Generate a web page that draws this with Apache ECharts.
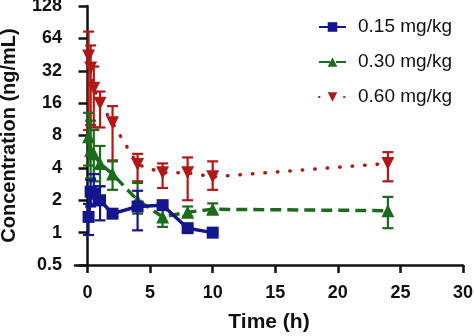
<!DOCTYPE html>
<html>
<head>
<meta charset="utf-8">
<script src="https://cdn.jsdelivr.net/npm/echarts@6/dist/echarts.min.js"></script>
<style>html,body{margin:0;padding:0;background:#fff}#c{width:474px;height:336px}</style>
</head>
<body>
<div id="c"></div>
<script>
const seriesNames = ['0.15 mg/kg', '0.30 mg/kg', '0.60 mg/kg'];
const timesLow = [0.083, 0.25, 0.5, 1, 2, 4, 6, 8, 10];
const times = [0.083, 0.25, 0.5, 1, 2, 4, 6, 8, 10, 24];
const lowMean = [1.4, 2.4, 2.3, 2.0, 1.5, 1.75, 1.8, 1.1, 1.0];
const lowUpper = [1.85, 3.1, 3.5, 2.7, 1.6, 2.45, 1.9, 1.15, 1.03];
const lowLower = [0.95, 1.75, 1.8, 1.3, 1.4, 1.05, 1.7, 1.05, 0.97];
const midMean = [7.8, 5.8, 5.4, 4.4, 3.5, 2.0, 1.4, 1.55, 1.65, 1.6];
const midUpper = [13, 11, 9, 6.4, 4.7, 2.9, 1.72, 1.75, 1.87, 2.15];
const midLower = [4.2, 3.2, 3.0, 2.7, 2.5, 1.5, 1.13, 1.42, 1.5, 1.1];
const highMean = [44, 34, 22, 16, 10.5, 4.3, 3.6, 3.6, 3.3, 4.4];
const highUpper = [74, 55, 35, 20.5, 15, 5.4, 4.4, 5.0, 4.6, 5.6];
const highLower = [9, 10, 9.5, 9.5, 4.6, 3.0, 2.6, 2.0, 2.5, 3.0];
const xTicks = [0, 5, 10, 15, 20, 25, 30];
const yTicks = [0.5, 1, 2, 4, 8, 16, 32, 64, 128];

const colors = ['#13168c', '#1c6a1c', '#b01818'];
const FONT = '"Liberation Sans", Arial, Helvetica, sans-serif';

function pairs(t, v) { return t.map((x, i) => [x, v[i]]); }
function errData(t, lo, hi) { return t.map((x, i) => [x, lo[i], hi[i]]); }
function errSeries(data, color, z) {
  return {
    type: 'custom', data: data, z: z, silent: true,
    encode: { x: 0, y: [1, 2] },
    renderItem: function (params, api) {
      const x = api.value(0);
      const lo = api.coord([x, api.value(1)]);
      const hi = api.coord([x, api.value(2)]);
      const w = 5.5;
      const st = { stroke: color, lineWidth: 2.2 };
      return {
        type: 'group', children: [
          { type: 'line', shape: { x1: lo[0], y1: lo[1], x2: hi[0], y2: hi[1] }, style: st },
          { type: 'line', shape: { x1: lo[0] - w, y1: lo[1], x2: lo[0] + w, y2: lo[1] }, style: st },
          { type: 'line', shape: { x1: hi[0] - w, y1: hi[1], x2: hi[0] + w, y2: hi[1] }, style: st }
        ]
      };
    }
  };
}

const chart = echarts.init(document.getElementById('c'), null, { renderer: 'canvas' });
chart.setOption({
  animation: false,
  textStyle: { fontFamily: FONT },
  grid: { left: 75, right: 11, top: 6, bottom: 71, containLabel: false, outerBoundsMode: 'none' },
  legend: {
    orient: 'vertical', left: 313, top: 12, itemWidth: 27, itemHeight: 12, itemGap: 15,
    textStyle: { fontSize: 19, color: '#111', fontFamily: FONT, lineHeight: 20, padding: [0, 0, 0, 7] },
    data: seriesNames
  },
  xAxis: {
    type: 'value', min: -1, max: 30,
    name: 'Time (h)', nameLocation: 'middle', nameGap: 47,
    nameTextStyle: { fontSize: 21, fontWeight: 'bold', color: '#111', fontFamily: FONT },
    axisLine: { lineStyle: { color: '#111', width: 2.5 } },
    axisTick: { length: 8, lineStyle: { color: '#111', width: 2.5 }, customValues: xTicks },
    axisLabel: { fontSize: 18, fontWeight: 'bold', color: '#111', margin: 19, customValues: xTicks, fontFamily: FONT },
    splitLine: { show: false }
  },
  yAxis: {
    type: 'log', logBase: 2, min: 0.5, max: 128,
    name: 'Concentration (ng/mL)', nameLocation: 'middle', nameGap: 56,
    nameTextStyle: { fontSize: 20, fontWeight: 'bold', color: '#111', fontFamily: FONT },
    axisLine: { show: true, lineStyle: { color: '#111', width: 2.5 } },
    axisTick: { show: true, length: 9, lineStyle: { color: '#111', width: 2.5 }, customValues: yTicks },
    axisLabel: {
      fontSize: 18, fontWeight: 'bold', color: '#111', margin: 13, customValues: yTicks, fontFamily: FONT,
      formatter: function (v) { return String(Math.round(v * 100) / 100); }
    },
    splitLine: { show: false }
  },
  series: [
    errSeries(errData(times, highLower, highUpper), colors[2], 1),
    {
      name: seriesNames[2], type: 'line', data: pairs(times, highMean), z: 2,
      symbol: 'triangle', symbolRotate: 180, symbolSize: 13,
      itemStyle: { color: colors[2] },
      lineStyle: { color: colors[2], width: 3.5, type: [0.5, 12], cap: 'round' }
    },
    errSeries(errData(times, midLower, midUpper), colors[1], 3),
    {
      name: seriesNames[1], type: 'line', data: pairs(times, midMean), z: 4,
      symbol: 'triangle', symbolSize: 13,
      itemStyle: { color: colors[1] },
      lineStyle: { color: colors[1], width: 3.5, type: [11, 6] }
    },
    errSeries(errData(timesLow, lowLower, lowUpper), colors[0], 5),
    {
      name: seriesNames[0], type: 'line', data: pairs(timesLow, lowMean), z: 6,
      symbol: 'rect', symbolSize: 12,
      itemStyle: { color: colors[0] },
      lineStyle: { color: colors[0], width: 3.5 }
    }
  ]
});
</script>
</body>
</html>
